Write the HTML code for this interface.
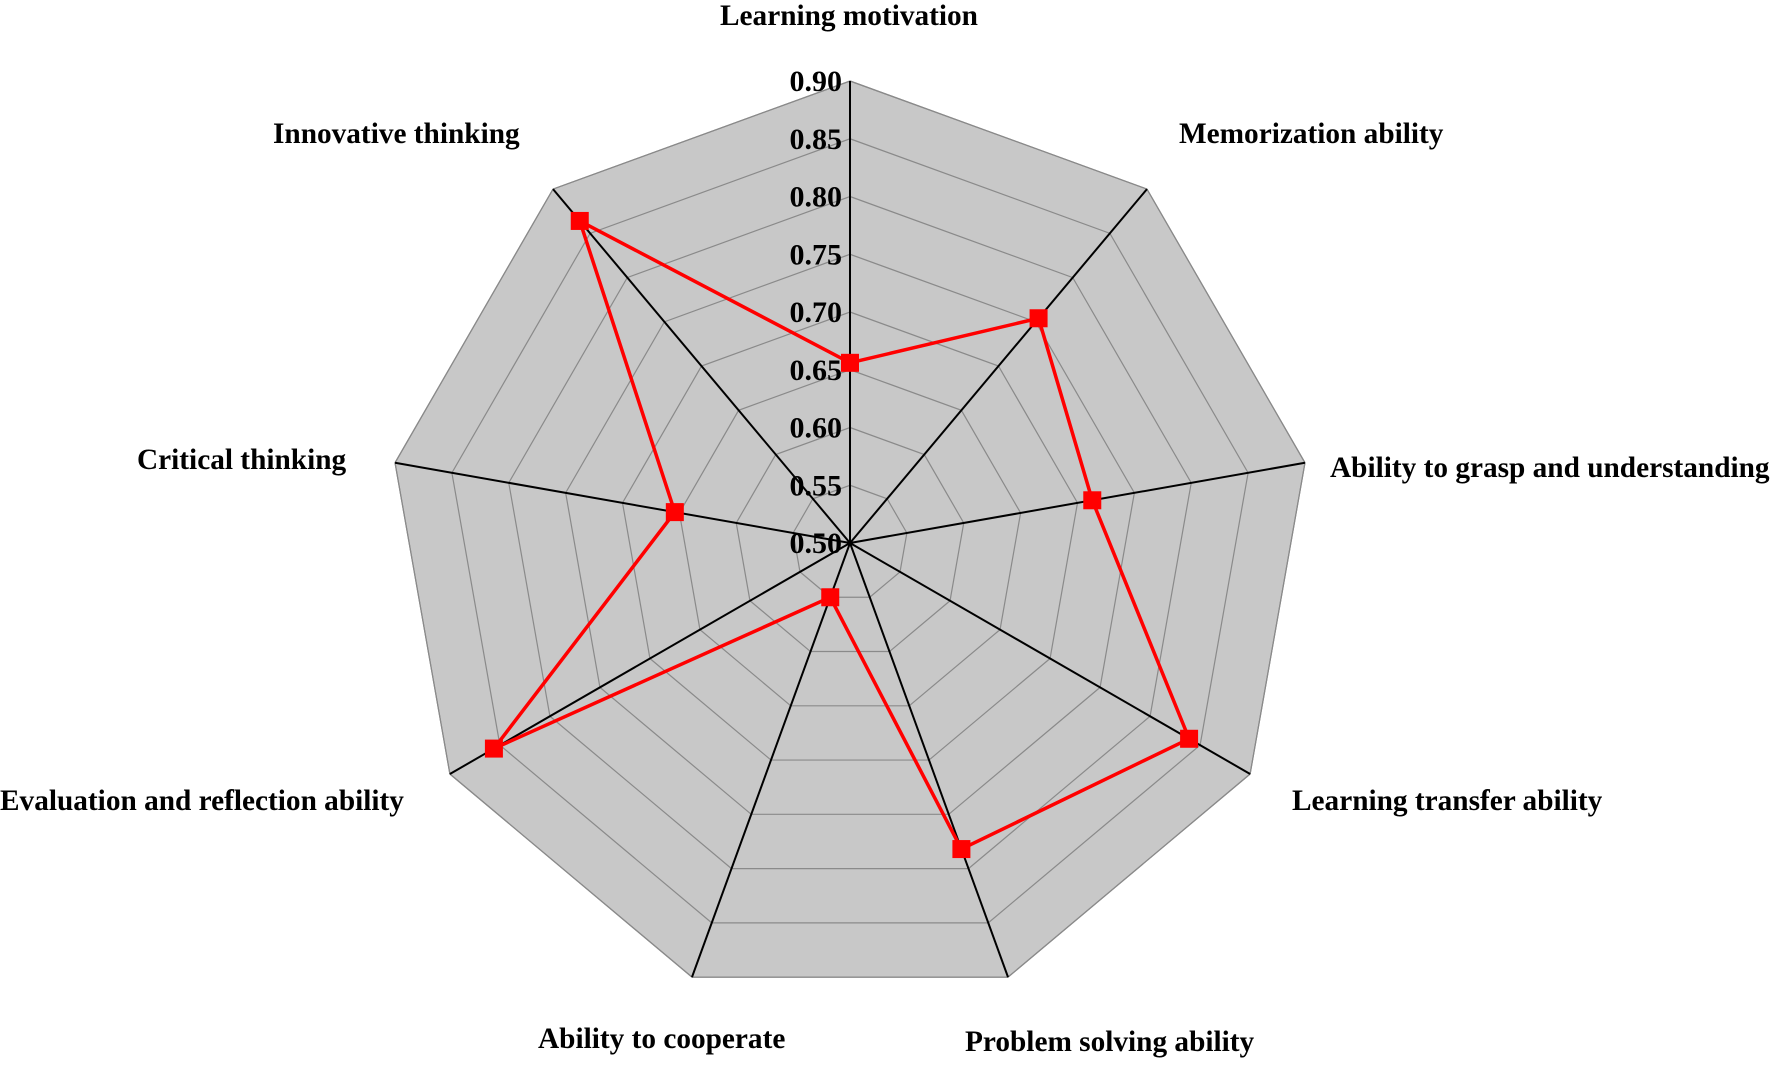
<!DOCTYPE html>
<html><head><meta charset="utf-8"><style>
html,body{margin:0;padding:0;background:#fff;}
svg text{font-family:"Liberation Serif",serif;font-weight:bold;fill:#000;}
</style></head><body>
<svg id="chart" width="1772" height="1062" xmlns="http://www.w3.org/2000/svg">
<g id="grid"></g>
<g id="spokes"></g>
<g id="ticks"></g>
<g id="series"></g>
<g id="labels"></g>
</svg>
<script>
const categories = ["Learning motivation","Memorization ability","Ability to grasp and understanding","Learning transfer ability","Problem solving ability","Ability to cooperate","Evaluation and reflection ability","Critical thinking","Innovative thinking"];
const values = [0.656, 0.754, 0.713, 0.839, 0.782, 0.55, 0.856, 0.654, 0.864];
const ticks = [0.50,0.55,0.60,0.65,0.70,0.75,0.80,0.85,0.90];
const tickLabels = ["0.50","0.55","0.60","0.65","0.70","0.75","0.80","0.85","0.90"];

const CX=850, CY=543, R=462, VMIN=0.5, VMAX=0.9;
const NS="http://www.w3.org/2000/svg";
function rScale(v){return (v-VMIN)/(VMAX-VMIN)*R;}
function ang(i){return i*2*Math.PI/categories.length;}
function pt(i,v){const r=rScale(v),a=ang(i);return [CX+r*Math.sin(a),CY-r*Math.cos(a)];}
function mk(tag,attrs,parent){const e=document.createElementNS(NS,tag);for(const k in attrs)e.setAttribute(k,attrs[k]);parent.appendChild(e);return e;}

const grid=document.getElementById('grid');
const outer=categories.map((c,i)=>pt(i,VMAX).join(',')).join(' ');
const bg=mk('polygon',{points:outer,fill:'#c8c8c8',stroke:'#808080','stroke-width':1.2},grid);


ticks.forEach((t,k)=>{
  if(k===0)return;
  const p=categories.map((c,i)=>pt(i,t).join(',')).join(' ');
  const g=mk('polygon',{points:p,fill:'none',stroke:'#8a8a8a','stroke-width':1.2},grid);
  
  
});
const spokes=document.getElementById('spokes');
categories.forEach((c,i)=>{
  const [x,y]=pt(i,VMAX);
  const l=mk('line',{x1:CX,y1:CY,x2:x,y2:y,stroke:'#000','stroke-width':2},spokes);
  
  
});
const tg=document.getElementById('ticks');
ticks.forEach((t,k)=>{
  const y=CY-rScale(t);
  const tx=mk('text',{x:842,y:y+10,'text-anchor':'end','font-size':30},tg);
  tx.textContent=tickLabels[k];
  
  
});
const sg=document.getElementById('series');
const pts=values.map((v,i)=>pt(i,v));
const poly=mk('polygon',{points:pts.map(p=>p.join(',')).join(' '),fill:'none',stroke:'#ff0000','stroke-width':3.5,'stroke-linejoin':'miter'},sg);


pts.forEach(p=>{
  const m=mk('rect',{x:p[0]-9,y:p[1]-9,width:18,height:18,fill:'#ff0000'},sg);
  
  
});
const labelPos=[[849,25,'middle'],[1179,143,'start'],[1330,477,'start'],[1292,810,'start'],[965,1051,'start'],[538,1048,'start'],[0,810,'start'],[137,469,'start'],[273,143,'start']];
const lg=document.getElementById('labels');
categories.forEach((c,i)=>{
  const [x,y,a]=labelPos[i];
  const t=mk('text',{x:x,y:y,'text-anchor':a,'font-size':29.3},lg);
  t.textContent=c;
  
  
});
</script>
</body></html>
